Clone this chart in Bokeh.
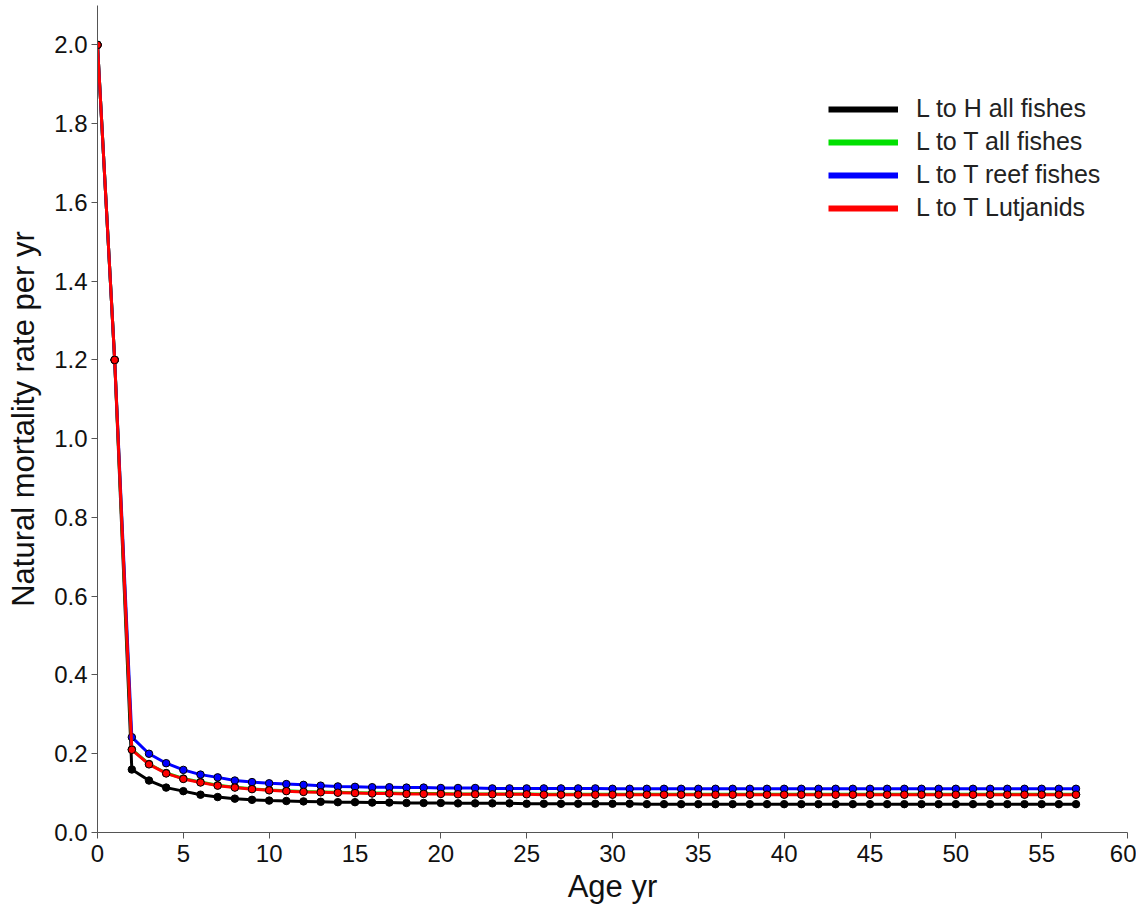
from bokeh.plotting import figure
from bokeh.models import Range1d, Legend, LegendItem, SingleIntervalTicker, CustomJSTickFormatter
from bokeh.embed import file_html
from bokeh.resources import INLINE

ages = list(range(0, 58))

m_LH_all = [2.0, 1.2, 0.160, 0.132, 0.114, 0.105, 0.096, 0.090, 0.086, 0.083,
            0.081, 0.080, 0.079, 0.078, 0.077, 0.077, 0.076, 0.076, 0.075, 0.075,
            0.075, 0.074, 0.074, 0.074, 0.074, 0.073, 0.073, 0.073, 0.073, 0.073,
            0.073, 0.073, 0.072, 0.072, 0.072, 0.072, 0.072, 0.072, 0.072, 0.072,
            0.072, 0.072, 0.072, 0.072, 0.072, 0.072, 0.072, 0.072, 0.072, 0.072,
            0.072, 0.072, 0.072, 0.072, 0.072, 0.072, 0.072, 0.072]

m_LT_reef = [2.0, 1.2, 0.242, 0.200, 0.176, 0.159, 0.147, 0.140, 0.132, 0.128,
             0.125, 0.123, 0.121, 0.119, 0.117, 0.116, 0.115, 0.115, 0.114, 0.114,
             0.113, 0.113, 0.113, 0.112, 0.112, 0.112, 0.112, 0.112, 0.112, 0.112,
             0.111, 0.111, 0.111, 0.111, 0.111, 0.111, 0.111, 0.111, 0.111, 0.111,
             0.111, 0.111, 0.111, 0.111, 0.111, 0.111, 0.111, 0.111, 0.111, 0.111,
             0.111, 0.111, 0.111, 0.111, 0.111, 0.111, 0.111, 0.111]

m_LT_lutj = [2.0, 1.2, 0.210, 0.173, 0.150, 0.136, 0.127, 0.119, 0.114, 0.110,
             0.107, 0.105, 0.103, 0.102, 0.101, 0.100, 0.099, 0.099, 0.098, 0.098,
             0.098, 0.097, 0.097, 0.097, 0.097, 0.097, 0.096, 0.096, 0.096, 0.096,
             0.096, 0.096, 0.096, 0.096, 0.096, 0.096, 0.096, 0.096, 0.096, 0.096,
             0.096, 0.096, 0.096, 0.096, 0.096, 0.096, 0.096, 0.096, 0.096, 0.096,
             0.096, 0.096, 0.096, 0.096, 0.096, 0.096, 0.096, 0.096]

m_LT_all = [2.0, 1.2, 0.211, 0.174, 0.151, 0.137, 0.128, 0.120, 0.115, 0.111,
            0.108, 0.106, 0.104, 0.103, 0.102, 0.101, 0.100, 0.100, 0.099, 0.099,
            0.099, 0.098, 0.098, 0.098, 0.098, 0.098, 0.097, 0.097, 0.097, 0.097,
            0.097, 0.097, 0.097, 0.097, 0.097, 0.097, 0.097, 0.097, 0.097, 0.097,
            0.097, 0.097, 0.097, 0.097, 0.097, 0.097, 0.097, 0.097, 0.097, 0.097,
            0.097, 0.097, 0.097, 0.097, 0.097, 0.097, 0.097, 0.097]

series_labels = ["L to H all fishes", "L to T all fishes", "L to T reef fishes", "L to T Lutjanids"]
series_colors = ["#000000", "#00e000", "#0000ff", "#ff0000"]
series_values = [m_LH_all, m_LT_all, m_LT_reef, m_LT_lutj]

FONT = "Liberation Sans"
NAN = float("nan")

p = figure(width=1136, height=907, output_backend="svg", toolbar_location=None,
           x_range=Range1d(0, 60), y_range=Range1d(0, 2.1),
           min_border_left=97, min_border_right=9, min_border_top=5, min_border_bottom=75)
p.outline_line_color = None
p.xgrid.visible = False
p.ygrid.visible = False

for vals, col in zip(series_values, series_colors):
    p.line(ages, vals, line_color=col, line_width=3)
    p.scatter(ages, vals, size=7.5, fill_color=col, line_color="#000000", line_width=1)

items = []
for lab, col in zip(series_labels, series_colors):
    r = p.line([NAN, NAN], [NAN, NAN], line_color=col, line_width=6)
    items.append(LegendItem(label=lab, renderers=[r]))

legend = Legend(items=items, location=(731, 610), border_line_color=None,
                background_fill_alpha=0, padding=0, spacing=4,
                glyph_width=70, glyph_height=28, label_standoff=18,
                label_text_font=FONT, label_text_font_size="25px",
                label_text_color="#222222", margin=0)
p.add_layout(legend)

for ax in (p.xaxis[0], p.yaxis[0]):
    ax.axis_line_color = "#555555"
    ax.major_tick_line_color = "#555555"
    ax.minor_tick_line_color = None
    ax.major_tick_out = 6
    ax.major_tick_in = 0
    ax.major_label_text_font = FONT
    ax.major_label_text_font_size = "24px"
    ax.major_label_text_color = "#111111"
    ax.axis_label_text_font = FONT
    ax.axis_label_text_font_size = "31px"
    ax.axis_label_text_font_style = "normal"
    ax.axis_label_text_color = "#111111"

p.xaxis[0].ticker = SingleIntervalTicker(interval=5)
p.yaxis[0].ticker = SingleIntervalTicker(interval=0.2)
p.yaxis[0].formatter = CustomJSTickFormatter(code="return tick.toFixed(1);")
p.xaxis[0].axis_label = "Age yr"
p.yaxis[0].axis_label = "Natural mortality rate per yr"
p.xaxis[0].major_label_standoff = 6
p.yaxis[0].major_label_standoff = 4
p.xaxis[0].axis_label_standoff = 4
p.yaxis[0].axis_label_standoff = 10

open("out.html", "w").write(file_html(p, INLINE))
